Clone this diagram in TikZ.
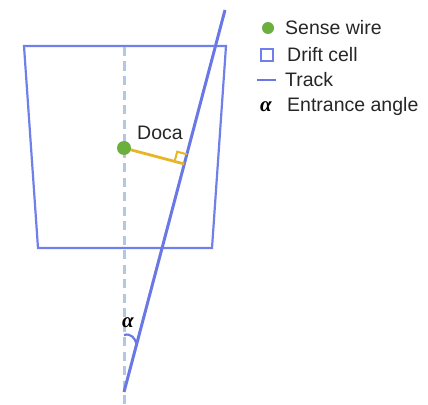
\documentclass[tikz,border=0pt]{standalone}
\usepackage{fontspec}
\setmainfont{Liberation Sans}
\newfontfamily\grkfont{Liberation Serif}
\usetikzlibrary{calc}
\definecolor{cellblue}{HTML}{7080EA}
\definecolor{trackblue}{HTML}{6A78E6}
\definecolor{dashblue}{HTML}{B3C6E3}
\definecolor{wiregreen}{HTML}{6BAF3F}
\definecolor{docayel}{HTML}{E9B524}
\tikzset{
  cellline/.style={draw=cellblue, line width=2.2pt},
  trackline/.style={draw=trackblue, line width=3pt},
  axisline/.style={draw=dashblue, line width=3pt, dash pattern=on 9pt off 5.5pt},
  docaline/.style={draw=docayel, line width=2.8pt},
  wiredot/.style={circle, fill=wiregreen, inner sep=0pt},
  lbl/.style={inner sep=0pt, anchor=base west, font=\fontsize{19.5}{23}\selectfont, text=black!85},
  alph/.style={inner sep=0pt, anchor=base, font=\grkfont\bfseries\itshape\fontsize{21}{24}\selectfont},
}
\begin{document}
\begin{tikzpicture}[x=1pt,y=-1pt]
\useasboundingbox (0,0) rectangle (428,404);
% drift cell
\coordinate (c1) at (24,46);
\coordinate (c2) at (226,46);
\coordinate (c3) at (212,248);
\coordinate (c4) at (38,248);
\draw[cellline, line join=miter] (c1) -- (c2) -- (c3) -- (c4) -- cycle;
% vertical axis through wire
\coordinate (a1) at (124,47);
\coordinate (a2) at (124,404);
\draw[axisline] (a1) -- (a2);
% track
\coordinate (T1) at (124,392);
\coordinate (T2) at (225,10);
\draw[trackline] (T1) -- (T2);
% wire and doca
\coordinate (W) at (124,148);
\coordinate (F) at ($(T1)!(W)!(T2)$);
\coordinate (m1) at ($(F)!10pt!(W)$);
\coordinate (m3) at ($(F)!10pt!(T2)$);
\coordinate (m2) at ($(m1)+(m3)-(F)$);
\draw[docaline] (W) -- (F);
\draw[draw=docayel, line width=2pt] (m1) -- (m2) -- (m3);
\node[wiredot, minimum size=14pt] (wire) at (W) {};
\node[lbl] (doca) at (137,139) {Doca};
% entrance angle
\coordinate (r1) at (124,335);
\coordinate (r2) at ($(T1)!0.125!(T2)$);
\draw[draw=trackblue, line width=2.2pt] (r1) .. controls (131,333) and (135,338) .. (r2);
\node[alph] (alpha) at (128,327) {α};
% legend
\node[wiredot, minimum size=12pt] (lgdot) at (268,28) {};
\node[lbl] (lgwire) at (285,35) {Sense wire};
\node[draw=cellblue, line width=1.8pt, minimum size=12pt, inner sep=0pt] (lgsq) at (267,55) {};
\node[lbl] (lgcell) at (287,61.5) {Drift cell};
\coordinate (lg1) at (257,80);
\coordinate (lg2) at (276,80);
\draw[draw=trackblue, line width=2.6pt] (lg1) -- (lg2);
\node[lbl] (lgtrack) at (285,86) {Track};
\node[alph] (lgalpha) at (266,111) {α};
\node[lbl] (lgangle) at (287,111) {Entrance angle};
\end{tikzpicture}
\end{document}
